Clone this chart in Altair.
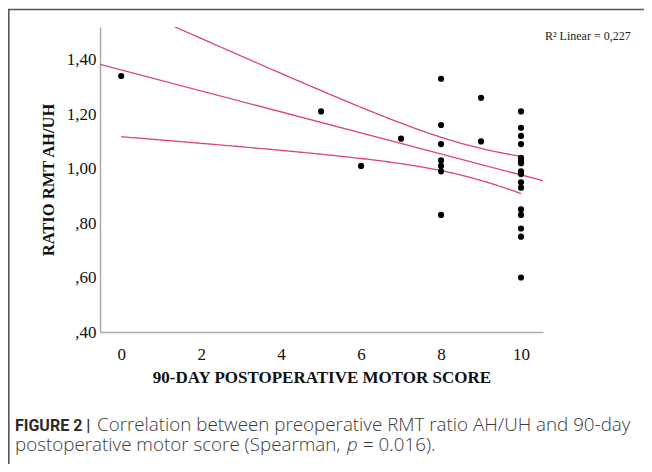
import altair as alt
import pandas as pd
import numpy as np

# ---- data ----
motor_score = [0, 5, 6, 7,
               8, 8, 8, 8, 8, 8, 8,
               9, 9,
               10, 10, 10, 10, 10, 10, 10, 10, 10, 10, 10, 10, 10, 10, 10, 10]
rmt_ratio = [1.34, 1.21, 1.01, 1.11,
             1.33, 1.16, 1.09, 1.03, 1.01, 0.99, 0.83,
             1.26, 1.10,
             1.21, 1.15, 1.12, 1.09, 1.04, 1.03, 1.02, 0.99, 0.98, 0.95, 0.93,
             0.85, 0.83, 0.78, 0.75, 0.60]
x_ticks = [0, 2, 4, 6, 8, 10]
y_ticks = [0.4, 0.6, 0.8, 1.0, 1.2, 1.4]
r2_label = "R² Linear = 0,227"
x_title = "90-DAY POSTOPERATIVE MOTOR SCORE"
y_title = "RATIO RMT AH/UH"
cap1_bold = "FIGURE 2 |"
cap1_rest = "Correlation between preoperative RMT ratio AH/UH and 90-day"
cap2_a = "postoperative motor score (Spearman,"
cap2_p = "p"
cap2_b = "= 0.016)."

pts = pd.DataFrame({"x": motor_score, "y": rmt_ratio})

# ---- 95% confidence band of the mean (computed from the points) ----
xa = np.array(motor_score, float)
ya = np.array(rmt_ratio, float)
n = len(xa)
slope, intercept = np.polyfit(xa, ya, 1)
resid = ya - (intercept + slope * xa)
s = np.sqrt((resid ** 2).sum() / (n - 2))
sxx = ((xa - xa.mean()) ** 2).sum()
t_crit = 2.052  # t(0.975, df=27)
grid = np.linspace(xa.min(), xa.max(), 201)
fit = intercept + slope * grid
half = t_crit * s * np.sqrt(1.0 / n + (grid - xa.mean()) ** 2 / sxx)
ci = pd.concat([
    pd.DataFrame({"x": grid, "y": fit + half, "band": "upper"}),
    pd.DataFrame({"x": grid, "y": fit - half, "band": "lower"}),
])

XDOM = [-0.53, 10.55]
YDOM = [0.40, 1.52]
W, H = 443, 305
LINE_COLOR = "#d9476d"
SERIF = "Liberation Serif"
SANS = "Open Sans"
CAP_SIZE = 18.8

y_label_expr = ("datum.value < 1 ? substring(replace(format(datum.value, '.2f'), '.', ','), 1)"
                " : replace(format(datum.value, '.2f'), '.', ',')")

xenc = alt.X("x:Q", scale=alt.Scale(domain=XDOM, nice=False, zero=False),
             axis=alt.Axis(values=x_ticks, title=x_title, grid=False, ticks=False,
                           labelFont=SERIF, labelFontSize=17, labelColor="#111",
                           labelPadding=14, titleFont=SERIF, titleFontSize=17,
                           titleFontWeight="bold", titleColor="#111", titlePadding=7,
                           domainColor="#ababab", domainWidth=1.5, labelFlush=False))
yenc = alt.Y("y:Q", scale=alt.Scale(domain=YDOM, nice=False, zero=False),
             axis=alt.Axis(values=y_ticks, title=y_title, grid=False, ticks=False,
                           labelExpr=y_label_expr,
                           labelFont=SERIF, labelFontSize=17, labelColor="#111",
                           labelPadding=4, titleFont=SERIF, titleFontSize=16.5,
                           titleFontWeight="bold", titleColor="#111", titlePadding=10,
                           domainColor="#ababab", domainWidth=1.5, labelFlush=False))

points = alt.Chart(pts).mark_circle(size=38, color="black", opacity=1).encode(x=xenc, y=yenc)

fit_line = alt.Chart(pts).transform_regression(
    "x", "y", method="linear", extent=XDOM
).mark_line(color=LINE_COLOR, strokeWidth=1.3, clip=True).encode(x="x:Q", y="y:Q")

ci_lines = alt.Chart(ci).mark_line(color=LINE_COLOR, strokeWidth=1.3, clip=True).encode(
    x="x:Q", y="y:Q", detail="band:N")

def txt(label, x, y, font, size, weight="normal", style="normal", color="#333", align="left",
        baseline="alphabetic"):
    return alt.Chart(pd.DataFrame({"t": [label]})).mark_text(
        font=font, fontSize=size, fontWeight=weight, fontStyle=style, color=color,
        align=align, baseline=baseline
    ).encode(x=alt.value(x), y=alt.value(y), text="t:N")

r2 = txt(r2_label, 445, 9, SERIF, 12, color="#222", baseline="middle")

cap = [
    txt(cap1_bold, -85, 404, "Roboto", 16, weight="bold", color="#2b2b2b"),
    txt(cap1_rest, -3, 404, SANS, CAP_SIZE, weight=300, color="#3a3a3a"),
    txt(cap2_a, -85, 424, SANS, CAP_SIZE, weight=300, color="#3a3a3a"),
    txt(cap2_p, 247, 424, SANS, CAP_SIZE, weight=300, style="italic", color="#3a3a3a"),
    txt(cap2_b, 263, 424, SANS, CAP_SIZE, weight=300, color="#3a3a3a"),
]

border_top = alt.Chart(pd.DataFrame({"a": [0]})).mark_rule(color="#555", strokeWidth=1.6).encode(
    x=alt.value(-92), x2=alt.value(560), y=alt.value(-17.5))
border_left = alt.Chart(pd.DataFrame({"a": [0]})).mark_rule(color="#555", strokeWidth=1.6).encode(
    x=alt.value(-91.2), y=alt.value(-17.5), y2=alt.value(460))

chart = alt.layer(
    border_top, border_left, ci_lines, fit_line, points, r2, *cap
).properties(
    width=W, height=H,
    autosize=alt.AutoSizeParams(type="none"),
    padding={"left": 92, "top": 19, "right": 101, "bottom": 132},
    background="white",
).configure_view(strokeWidth=0)

chart.save("out.html", embed_options={"renderer": "svg", "actions": False})
